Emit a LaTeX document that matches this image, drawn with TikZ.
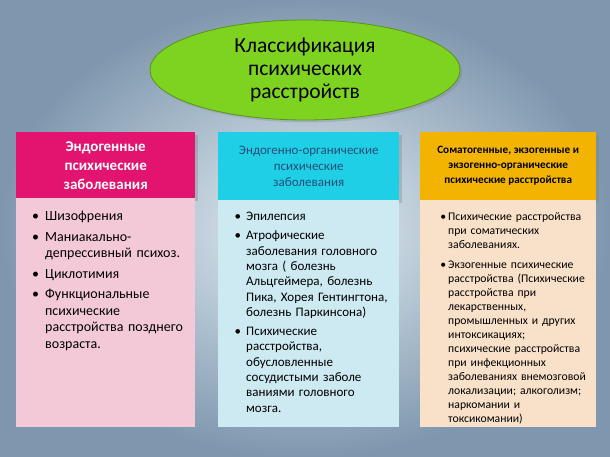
\documentclass[tikz,border=0pt]{standalone}
\usepackage{fontspec}
\setmainfont{Carlito}
\usetikzlibrary{shadows,shapes.geometric}
\definecolor{bgA}{HTML}{E3EEF3}
\definecolor{bgB}{HTML}{7F97AE}
\definecolor{pinkH}{HTML}{E3146F}
\definecolor{pinkB}{HTML}{F3C9D8}
\definecolor{cyanH}{HTML}{1FCFE6}
\definecolor{cyanB}{HTML}{CDE9F2}
\definecolor{oraH}{HTML}{F3B400}
\definecolor{oraB}{HTML}{F8E1C8}
\definecolor{grn}{HTML}{7ED321}
\definecolor{navy}{HTML}{1F4E79}
\tikzset{
 hdr/.style={minimum width=#1, align=center, inner sep=2pt, drop shadow={opacity=0.35}},
}
\begin{document}
\begin{tikzpicture}[x=1pt,y=-1pt]
\useasboundingbox (0,0) rectangle (610,457);
\shade[inner color=bgA, outer color=bgB] (0,0) rectangle (610,457);
\node[ellipse, fill=grn, draw=grn!70!black, line width=0.8pt, minimum width=310, minimum height=100, align=center, font=\fontsize{21.5}{23}\selectfont, drop shadow={opacity=0.3}] (title) at (305,70) {Классификация\\психических\\расстройств};
% column 1
\node[hdr=179, fill=pinkH, text=white, font=\bfseries\fontsize{15}{19}\selectfont, anchor=north west, minimum height=66] (h1) at (16,132) {Эндогенные\\психические\\заболевания};
\node[fill=pinkB, anchor=north west, minimum width=179, minimum height=229] (b1) at (16,198) {};
\node[anchor=north west, text width=170, align=left, font=\fontsize{14}{16.5}\selectfont, inner sep=0pt] (t1) at (20,196) {%
\begin{itemize}\setlength{\itemsep}{0pt}\setlength{\leftmargin}{14pt}\setlength{\labelsep}{6pt}\setlength{\parsep}{0pt}
\item[\textbullet] Шизофрения
\item[\textbullet] Маниакально-депрессивный психоз.
\item[\textbullet] Циклотимия
\item[\textbullet] Функциональные психические расстройства позднего возраста.
\end{itemize}};
% column 2
\node[hdr=181, fill=cyanH, text=navy, font=\fontsize{13}{16}\selectfont, anchor=north west, minimum height=68] (h2) at (218,132) {Эндогенно-органические\\психические\\заболевания};
\node[fill=cyanB, anchor=north west, minimum width=181, minimum height=227] (b2) at (218,200) {};
\node[anchor=north west, text width=168, align=left, font=\fontsize{13}{15.3}\selectfont, inner sep=0pt] (t2) at (221,197) {%
\begin{itemize}\setlength{\itemsep}{0pt}\setlength{\leftmargin}{13pt}\setlength{\labelsep}{5pt}\setlength{\parsep}{0pt}
\item[\textbullet] Эпилепсия
\item[\textbullet] Атрофические заболевания головного мозга ( болезнь Альцгеймера, болезнь Пика, Хорея Гентингтона, болезнь Паркинсона)
\item[\textbullet] Психические расстройства, обусловленные сосудистыми заболе ваниями головного мозга.
\end{itemize}};
% column 3
\node[hdr=176, fill=oraH, text=black, font=\bfseries\fontsize{11.2}{15}\selectfont, anchor=north west, minimum height=68] (h3) at (420,132) {Соматогенные, экзогенные и\\экзогенно-органические\\психические расстройства};
\node[fill=oraB, anchor=north west, minimum width=176, minimum height=227] (b3) at (420,200) {};
\node[anchor=north west, text width=168, align=left, font=\fontsize{11.7}{14}\selectfont, inner sep=0pt] (t3) at (423,198) {%
\begin{itemize}\setlength{\itemsep}{2pt}\setlength{\leftmargin}{9pt}\setlength{\labelsep}{2pt}\setlength{\parsep}{0pt}
\item[\textbullet] Психические расстройства при соматических заболеваниях.
\item[\textbullet] Экзогенные психические расстройства (Психические расстройства при лекарственных, промышленных и других интоксикациях; психические расстройства при инфекционных заболеваниях внемозговой локализации; алкоголизм; наркомании и токсикомании)
\end{itemize}};
\end{tikzpicture}
\end{document}
